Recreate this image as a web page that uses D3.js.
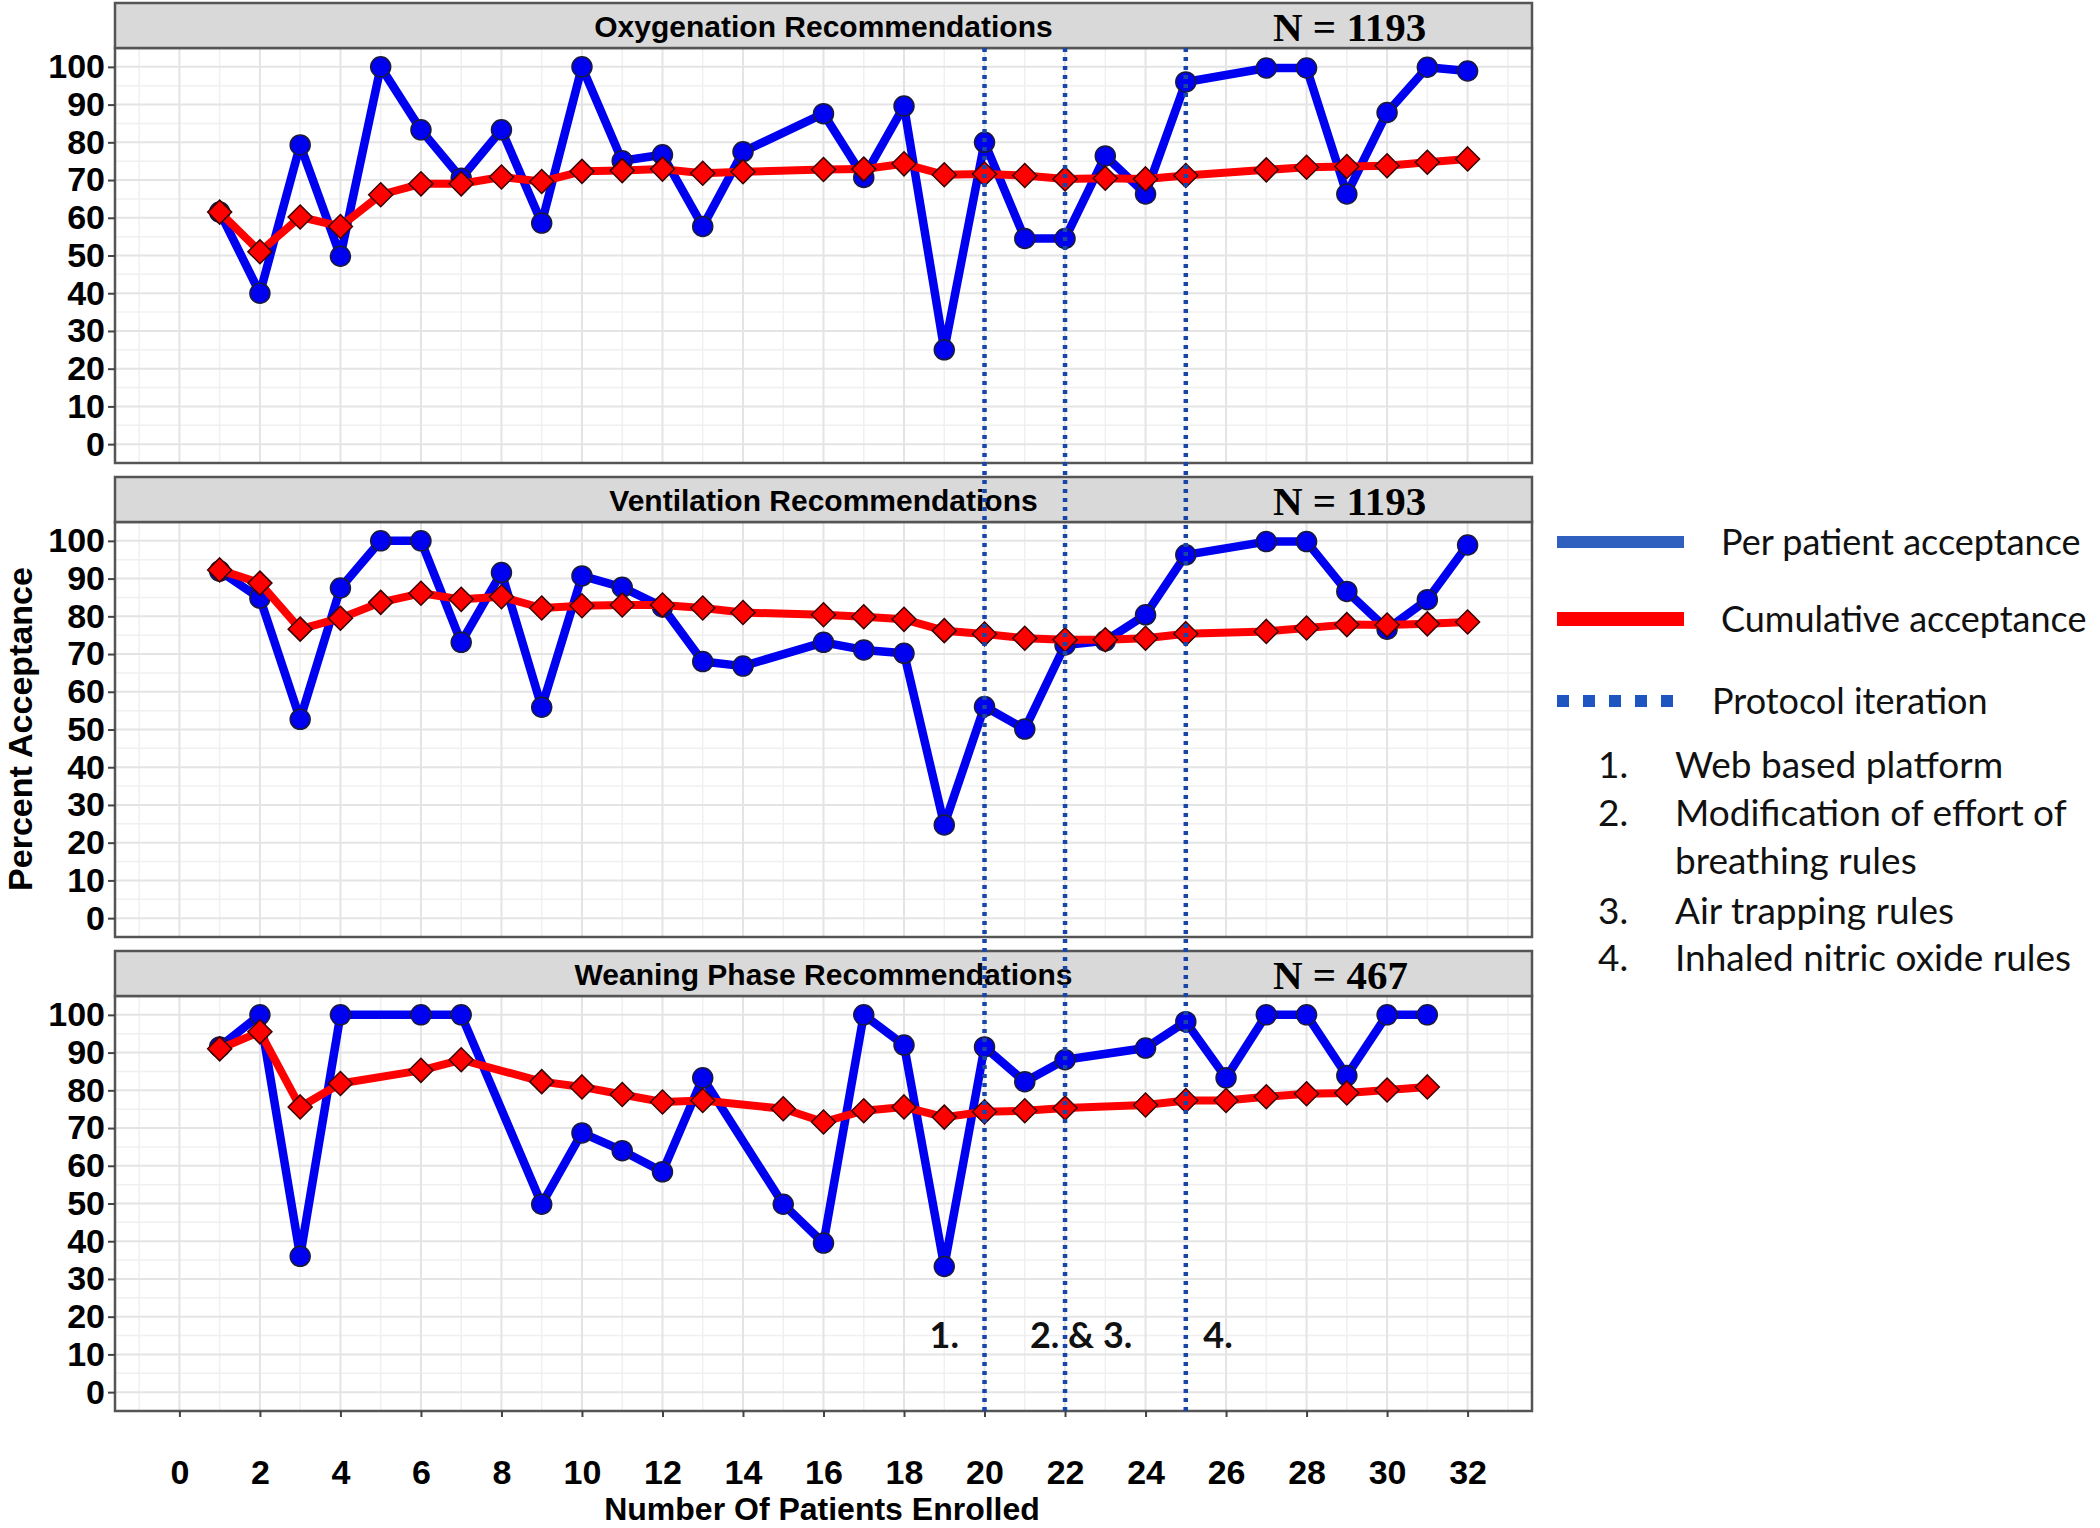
<!DOCTYPE html>
<html><head><meta charset="utf-8">
<script src="https://cdn.jsdelivr.net/npm/d3@7"></script>
<style>body{margin:0;background:#fff}</style>
</head><body>
<svg id="chart" width="2100" height="1528"></svg>
<script>
// ---------------- DATA ----------------
const panelTitles = ["Oxygenation Recommendations", "Ventilation Recommendations", "Weaning Phase Recommendations"];
const panelN = ["N = 1193", "N = 1193", "N = 467"];

const oxyX   = [1,2,3,4,5,6,7,8,9,10,11,12,13,14,16,17,18,19,20,21,22,23,24,25,27,28,29,30,31,32];
const oxyPer = [61.5,40,79.3,49.8,100,83.3,70.5,83.3,58.6,100,75.1,76.7,57.7,77.5,87.6,70.7,89.6,25,80,54.5,54.5,76.4,66.3,96,99.7,99.7,66.3,87.9,99.9,98.9];
const oxyCum = [61.5,51,60.2,57.7,66.1,69,69,70.8,69.6,72.3,72.5,72.9,71.8,72.2,72.8,72.9,74.3,71.4,71.6,71.2,70.3,70.5,70.3,71.2,72.7,73.4,73.6,73.8,74.7,75.6];

const ventX   = [1,2,3,4,5,6,7,8,9,10,11,12,13,14,16,17,18,19,20,21,22,23,24,25,27,28,29,30,31,32];
const ventPer = [92,84.8,52.7,87.5,100,100,73.1,91.6,55.9,90.7,87.7,82.5,68,66.8,73.1,71.1,70.2,24.7,56.1,50.1,72.4,73.5,80.4,96.3,99.8,99.8,86.6,76.6,84.4,98.9];
const ventCum = [92.3,88.8,76.6,79.5,83.7,86.1,84.5,85.2,82.2,82.8,83,83,82.2,81,80.4,79.9,79.2,76.2,75.3,74.2,73.8,73.8,74.2,75.4,76,76.9,77.8,77.7,78,78.5];

const weanX   = [1,2,3,4,6,7,9,10,11,12,13,15,16,17,18,19,20,21,22,24,25,26,27,28,29,30,31];
const weanPer = [91.5,100,36,100,100,100,49.8,68.7,64,58.4,83.3,49.8,39.5,100,92,33.3,91.5,82.3,88.1,91.2,98.2,83.3,100,100,83.9,100,100];
const weanCum = [91,95.5,75.6,81.8,85.3,88.1,82.3,80.9,78.9,76.9,77.3,75.1,71.6,74.6,75.6,72.9,74.3,74.6,75.3,76.1,77.3,77.3,78.3,79.1,79.3,80.1,80.9];

const xTickValues = [0,2,4,6,8,10,12,14,16,18,20,22,24,26,28,30,32];
const yTickValues = [0,10,20,30,40,50,60,70,80,90,100];

const protocolX = [20, 22, 25];
const protocolLabels = ["1.", "2. & 3.", "4."];
const protocolLabelX = [19.0, 22.4, 25.8];
const protocolLabelY = [11.8, 11.8, 11.8];

const legendSeries = ["Per patient acceptance", "Cumulative acceptance", "Protocol iteration"];
const legendNumbers = ["1.", "2.", "", "3.", "4."];
const legendItems = ["Web based platform", "Modification of effort of", "breathing rules", "Air trapping rules", "Inhaled nitric oxide rules"];

const xTitle = "Number Of Patients Enrolled";
const yTitle = "Percent Acceptance";

// ---------------- LAYOUT ----------------
const panels = [
  {title: panelTitles[0], n: panelN[0], xs: oxyX, per: oxyPer, cum: oxyCum},
  {title: panelTitles[1], n: panelN[1], xs: ventX, per: ventPer, cum: ventCum},
  {title: panelTitles[2], n: panelN[2], xs: weanX, per: weanPer, cum: weanCum}
];
const svg = d3.select("#chart");
svg.append("rect").attr("width", 2100).attr("height", 1528).attr("fill", "#fff");

const left = 115, right = 1532;
const x = d3.scaleLinear().domain([-1.6, 33.6]).range([left, right]);
const panelTops = [3, 477, 951];
const stripH = 45, plotH = 415;
const BLUE = "#0000f0", RED = "#ff0000";
const axisFont = "'Liberation Sans', Arial, sans-serif";

const xMinor = xTickValues.map(v => v - 1).concat([33]);
const yMinor = yTickValues.map(v => v - 5).concat([105]);

const diamond = "M0,-12L12,0L0,12L-12,0Z";

panels.forEach((p, i) => {
  const top = panelTops[i];
  const y0 = top + stripH, y1 = y0 + plotH;
  const y = d3.scaleLinear().domain([-5, 105]).range([y1, y0]);
  const g = svg.append("g");

  g.append("rect").attr("x", left).attr("y", y0).attr("width", right - left).attr("height", plotH).attr("fill", "#fff");

  // minor grid
  g.selectAll(".xmin").data(xMinor.filter(v => x(v) > left && x(v) < right)).enter().append("line")
    .attr("x1", d => x(d)).attr("x2", d => x(d)).attr("y1", y0).attr("y2", y1)
    .attr("stroke", "#f0f0f0").attr("stroke-width", 1.5);
  g.selectAll(".ymin").data(yMinor.filter(v => y(v) > y0 && y(v) < y1)).enter().append("line")
    .attr("x1", left).attr("x2", right).attr("y1", d => y(d)).attr("y2", d => y(d))
    .attr("stroke", "#f0f0f0").attr("stroke-width", 1.5);
  // major grid
  g.selectAll(".xmaj").data(xTickValues).enter().append("line")
    .attr("x1", d => x(d)).attr("x2", d => x(d)).attr("y1", y0).attr("y2", y1)
    .attr("stroke", "#e4e4e4").attr("stroke-width", 2);
  g.selectAll(".ymaj").data(yTickValues).enter().append("line")
    .attr("x1", left).attr("x2", right).attr("y1", d => y(d)).attr("y2", d => y(d))
    .attr("stroke", "#e4e4e4").attr("stroke-width", 2);

  const rows = p.xs.map((v, k) => ({x: v, per: p.per[k], cum: p.cum[k]}));

  const linePer = d3.line().x(d => x(d.x)).y(d => y(d.per));
  const lineCum = d3.line().x(d => x(d.x)).y(d => y(d.cum));

  g.append("path").datum(rows).attr("d", linePer).attr("fill", "none")
    .attr("stroke", BLUE).attr("stroke-width", 8.5).attr("stroke-linejoin", "round");
  g.selectAll(".pt").data(rows).enter().append("circle")
    .attr("cx", d => x(d.x)).attr("cy", d => y(d.per)).attr("r", 10)
    .attr("fill", BLUE).attr("stroke", "#1a1a3a").attr("stroke-width", 1.5);
  g.append("path").datum(rows).attr("d", lineCum).attr("fill", "none")
    .attr("stroke", RED).attr("stroke-width", 8).attr("stroke-linejoin", "round");
  g.selectAll(".dm").data(rows).enter().append("path")
    .attr("d", diamond).attr("transform", d => `translate(${x(d.x)},${y(d.cum)})`)
    .attr("fill", RED).attr("stroke", "#3a0000").attr("stroke-width", 1.5);

  // panel border
  g.append("rect").attr("x", left).attr("y", y0).attr("width", right - left).attr("height", plotH)
    .attr("fill", "none").attr("stroke", "#555").attr("stroke-width", 2.5);
  // strip
  g.append("rect").attr("x", left).attr("y", top).attr("width", right - left).attr("height", stripH)
    .attr("fill", "#d9d9d9").attr("stroke", "#555").attr("stroke-width", 2.5);
  g.append("text").attr("x", (left + right) / 2).attr("y", top + stripH / 2 + 11)
    .attr("text-anchor", "middle").attr("font-family", axisFont).attr("font-weight", "bold")
    .attr("font-size", 30).attr("fill", "#000").text(p.title);
  g.append("text").attr("x", 1273).attr("y", top + stripH - 7)
    .attr("font-family", "'Liberation Serif', 'Times New Roman', serif").attr("font-weight", "bold")
    .attr("font-size", 41).attr("fill", "#000").text(p.n);

  // y axis
  const ax = g.append("g").attr("transform", `translate(${left},0)`)
    .call(d3.axisLeft(y).tickValues(yTickValues).tickSize(7).tickPadding(3));
  ax.select(".domain").remove();
  ax.selectAll("line").attr("stroke", "#444").attr("stroke-width", 2);
  ax.selectAll("text").attr("font-family", axisFont).attr("font-weight", "bold")
    .attr("font-size", 34).attr("fill", "#000");

  if (i === 2) {
    const bx = g.append("g").attr("transform", `translate(0,${y1})`)
      .call(d3.axisBottom(x).tickValues(xTickValues).tickSize(6).tickPadding(43));
    bx.select(".domain").remove();
    bx.selectAll("line").attr("stroke", "#444").attr("stroke-width", 2);
    bx.selectAll("text").attr("font-family", axisFont).attr("font-weight", "bold")
      .attr("font-size", 34).attr("fill", "#000");
    // protocol labels
    g.selectAll(".plab").data(protocolLabels).enter().append("text")
      .attr("x", (d, k) => x(protocolLabelX[k])).attr("y", (d, k) => y(protocolLabelY[k]))
      .attr("text-anchor", "middle").attr("font-family", "Lato, 'Open Sans', sans-serif")
      .attr("font-weight", "bold").attr("font-size", 36).attr("fill", "#111").text(d => d);
  }
});

// protocol iteration dotted lines spanning all panels
const yTopAll = panelTops[0] + stripH, yBotAll = panelTops[2] + stripH + plotH;
svg.selectAll(".proto").data(protocolX).enter().append("line")
  .attr("x1", d => x(d)).attr("x2", d => x(d)).attr("y1", yTopAll).attr("y2", yBotAll)
  .attr("stroke", "#1845a8").attr("stroke-width", 4.5).attr("stroke-dasharray", "4,5");

// axis titles
svg.append("text").attr("transform", "translate(32,729) rotate(-90)")
  .attr("text-anchor", "middle").attr("font-family", axisFont).attr("font-weight", "bold")
  .attr("font-size", 34).attr("fill", "#000").text(yTitle);
svg.append("text").attr("x", 822).attr("y", 1520)
  .attr("text-anchor", "middle").attr("font-family", axisFont).attr("font-weight", "bold")
  .attr("font-size", 32).attr("fill", "#000").text(xTitle);

// legend
const lg = svg.append("g");
const legFont = "Lato, 'Open Sans', sans-serif";
lg.append("line").attr("x1", 1557).attr("x2", 1684).attr("y1", 542).attr("y2", 542)
  .attr("stroke", "#2f5fbf").attr("stroke-width", 12);
lg.append("line").attr("x1", 1557).attr("x2", 1684).attr("y1", 619).attr("y2", 619)
  .attr("stroke", "#ff0000").attr("stroke-width", 14);
lg.append("line").attr("x1", 1557).attr("x2", 1675).attr("y1", 701).attr("y2", 701)
  .attr("stroke", "#1f55c0").attr("stroke-width", 12).attr("stroke-dasharray", "12,14");
const legY = [555, 632, 714];
const legX = [1721, 1721, 1712];
lg.selectAll(".lt").data(legendSeries).enter().append("text")
  .attr("x", (d, k) => legX[k]).attr("y", (d, k) => legY[k])
  .attr("font-family", legFont).attr("font-size", 36).attr("fill", "#111").text(d => d);
const itemY = [778, 826, 874, 924, 971];
lg.selectAll(".ln").data(legendNumbers).enter().append("text")
  .attr("x", 1598).attr("y", (d, k) => itemY[k])
  .attr("font-family", legFont).attr("font-size", 37).attr("fill", "#111").text(d => d);
lg.selectAll(".li").data(legendItems).enter().append("text")
  .attr("x", 1675).attr("y", (d, k) => itemY[k])
  .attr("font-family", legFont).attr("font-size", 37).attr("fill", "#111").text(d => d);
</script>
</body></html>
